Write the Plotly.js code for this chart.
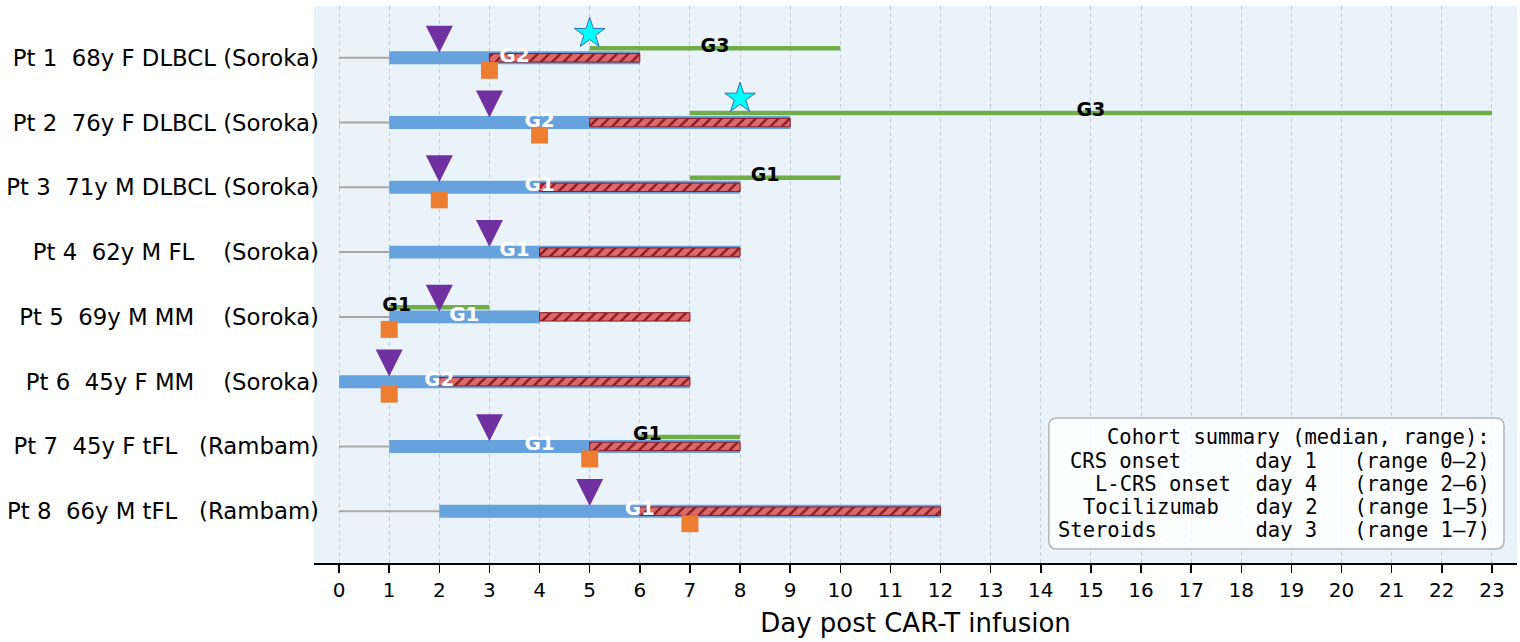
<!DOCTYPE html>
<html>
<head>
<meta charset="utf-8">
<script src="https://cdn.plot.ly/plotly-3.0.1.min.js"></script>
<style>html,body{margin:0;padding:0;background:#fff;}#chart{width:1520px;height:642px;}</style>
</head>
<body>
<div id="chart"></div>
<script>
// ---------------- DATA ----------------
const patientLabels = [
  "Pt 1  68y F DLBCL (Soroka)",
  "Pt 2  76y F DLBCL (Soroka)",
  "Pt 3  71y M DLBCL (Soroka)",
  "Pt 4  62y M FL    (Soroka)",
  "Pt 5  69y M MM    (Soroka)",
  "Pt 6  45y F MM    (Soroka)",
  "Pt 7  45y F tFL   (Rambam)",
  "Pt 8  66y M tFL   (Rambam)"
];
const crsStart      = [1, 1, 1, 1, 1, 0, 1, 2];
const crsEnd        = [6, 9, 8, 8, 4, 7, 8, 12];
const crsGrade      = ["G2", "G2", "G1", "G1", "G1", "G2", "G1", "G1"];
const crsLabelDay   = [3.5, 4, 4, 3.5, 2.5, 2, 4, 6];
const lcrsStart     = [3, 5, 4, 4, 4, 2, 5, 6];
const lcrsEnd       = [6, 9, 8, 8, 7, 7, 8, 12];
const tociDay       = [2, 3, 2, 3, 2, 1, 3, 5];
const steroidDay    = [3, 4, 2, null, 1, 1, 5, 7];
const icansStart    = [5, 7, 7, null, 1, null, 6, null];
const icansEnd      = [10, 23, 10, null, 3, null, 8, null];
const icansGrade    = ["G3", "G3", "G1", null, "G1", null, "G1", null];
const icansLabelDay = [7.5, 15, 8.5, null, 1.15, null, 6.15, null];
const starDay       = [5, 8, null, null, null, null, null, null];
const dayTicks      = [0,1,2,3,4,5,6,7,8,9,10,11,12,13,14,15,16,17,18,19,20,21,22,23];

const summaryTitle   = "Cohort summary (median, range):";
const summaryLabels  = ["CRS onset", "L-CRS onset", "Tocilizumab", "Steroids"];
const summaryPad     = [6, 2, 3, 8];
const summaryMedian  = [1, 4, 2, 3];
const summaryRangeLo = [0, 2, 1, 1];
const summaryRangeHi = [2, 6, 5, 7];

// ---------------- BUILD ----------------
const NB = "\u00a0";
const nb = s => s.replace(/ /g, NB);
const rows = patientLabels.map((_, i) => i);

// layout geometry (pixels)
const H = 642, MT = 6, MB = 79;
const plotBottom = H - MB, plotH = H - MT - MB;
const pxToPaperY = px => (plotBottom - px) / plotH;

const traces = [];

// baseline gray lines (day 0 -> CRS start)
{
  const xs = [], ys = [];
  rows.forEach(i => { if (crsStart[i] > 0) { xs.push(0, crsStart[i], null); ys.push(i, i, null); } });
  traces.push({type: "scatter", mode: "lines", x: xs, y: ys, line: {color: "#a8a8a8", width: 2}, hoverinfo: "skip"});
}

// CRS bars
traces.push({
  type: "bar", orientation: "h", y: rows, base: crsStart,
  x: rows.map(i => crsEnd[i] - crsStart[i]), width: 0.2,
  marker: {color: "#66a3de", line: {width: 0}}, hoverinfo: "skip"
});
// L-CRS hatched bars
traces.push({
  type: "bar", orientation: "h", y: rows, base: lcrsStart,
  x: rows.map(i => lcrsEnd[i] - lcrsStart[i]), width: 0.13,
  marker: {color: "#dc6a6d", line: {color: "#8b1a1e", width: 1},
           pattern: {shape: "/", fgcolor: "#8b1a1e", bgcolor: "#dc6a6d", size: 8, solidity: 0.3, fillmode: "replace"}},
  hoverinfo: "skip"
});

// ICANS green lines
{
  const xs = [], ys = [];
  rows.forEach(i => { if (icansStart[i] != null) { xs.push(icansStart[i], icansEnd[i], null); ys.push(i - 0.147, i - 0.147, null); } });
  traces.push({type: "scatter", mode: "lines", x: xs, y: ys, line: {color: "#70ad47", width: 4.5}, hoverinfo: "skip"});
}

// Steroid squares
{
  const idx = rows.filter(i => steroidDay[i] != null);
  traces.push({type: "scatter", mode: "markers", x: idx.map(i => steroidDay[i]), y: idx.map(i => i + 0.193),
    marker: {symbol: "square", size: 17, color: "#ed7d31", line: {width: 0}}, hoverinfo: "skip"});
}
// Tocilizumab triangles
traces.push({type: "scatter", mode: "markers", x: tociDay, y: rows.map(i => i - 0.08),
  marker: {symbol: "arrow-down", size: 27, color: "#7030a0", line: {width: 0}}, hoverinfo: "skip"});
// Stars
{
  const idx = rows.filter(i => starDay[i] != null);
  traces.push({type: "scatter", mode: "markers", x: idx.map(i => starDay[i]), y: idx.map(i => i - 0.377),
    marker: {symbol: "star", size: 23, color: "#00ffff", line: {color: "#2f6fb5", width: 1}}, hoverinfo: "skip"});
}
// CRS grade labels (white)
traces.push({type: "scatter", mode: "text", x: crsLabelDay, y: rows.map(i => i - 0.015), text: crsGrade,
  textposition: "middle center", textfont: {family: "DejaVu Sans", size: 20, color: "white", weight: "bold"}, hoverinfo: "skip"});
// ICANS grade labels (black)
{
  const idx = rows.filter(i => icansGrade[i] != null);
  traces.push({type: "scatter", mode: "text", x: idx.map(i => icansLabelDay[i]), y: idx.map(i => i - 0.17),
    text: idx.map(i => icansGrade[i]), textposition: "middle center",
    textfont: {family: "DejaVu Sans", size: 19, color: "black", weight: "bold"}, hoverinfo: "skip"});
}

// Summary box
const boxX0 = 14.16, boxX1 = 23.24;
const boxY0 = pxToPaperY(549), boxY1 = pxToPaperY(418);
const rx = 8 / 50.125, ry = 8 / plotH;
const boxPath = `M${boxX0 + rx},${boxY0} L${boxX1 - rx},${boxY0} Q${boxX1},${boxY0} ${boxX1},${boxY0 + ry} ` +
  `L${boxX1},${boxY1 - ry} Q${boxX1},${boxY1} ${boxX1 - rx},${boxY1} L${boxX0 + rx},${boxY1} ` +
  `Q${boxX0},${boxY1} ${boxX0},${boxY1 - ry} L${boxX0},${boxY0 + ry} Q${boxX0},${boxY0} ${boxX0 + rx},${boxY0} Z`;

const summaryLines = [summaryTitle].concat(summaryLabels.map((l, k) =>
  l + " ".repeat(summaryPad[k]) + "day " + summaryMedian[k] + "   (range " + summaryRangeLo[k] + "\u2013" + summaryRangeHi[k] + ")"));
const lineY = [437, 460.5, 483.5, 506.5, 529.5];
const annotations = summaryLines.map((t, k) => ({
  xref: "x", yref: "paper", x: 23, y: pxToPaperY(lineY[k]), xanchor: "right", yanchor: "middle",
  text: nb(t), showarrow: false, align: "right",
  font: {family: "DejaVu Sans Mono", size: 20.5, color: "black"}
}));

const layout = {
  width: 1520, height: 642,
  margin: {l: 314, r: 3, t: MT, b: MB},
  paper_bgcolor: "white", plot_bgcolor: "#eaf2fa",
  showlegend: false, barmode: "overlay",
  font: {family: "DejaVu Sans", color: "black"},
  xaxis: {
    range: [-0.5, 23.5], tickmode: "array", tickvals: dayTicks, ticktext: dayTicks.map(String),
    showgrid: true, gridcolor: "#c4cbd4", gridwidth: 1, griddash: "4px,3px",
    zeroline: false, showline: true, linecolor: "black", linewidth: 1.5,
    ticks: "outside", ticklen: 8, tickwidth: 1.5, tickcolor: "black",
    tickfont: {family: "DejaVu Sans", size: 20, color: "black"},
    title: {text: "Day post CAR-T infusion", font: {family: "DejaVu Sans", size: 26, color: "black"}, standoff: 13},
    fixedrange: true
  },
  yaxis: {
    range: [7.8, -0.8], tickmode: "array", tickvals: rows, ticktext: patientLabels.map(nb),
    showgrid: false, zeroline: false, showline: false, ticks: "",
    ticklabelstandoff: -6,
    tickfont: {family: "DejaVu Sans", size: 22.8, color: "black"}, fixedrange: true
  },
  shapes: [{type: "path", xref: "x", yref: "paper", path: boxPath,
            fillcolor: "rgba(255,255,255,0.85)", line: {color: "#b4b4b4", width: 1.5}, layer: "above"}],
  annotations: annotations
};

Plotly.newPlot("chart", traces, layout, {displayModeBar: false, staticPlot: true});
</script>
</body>
</html>
